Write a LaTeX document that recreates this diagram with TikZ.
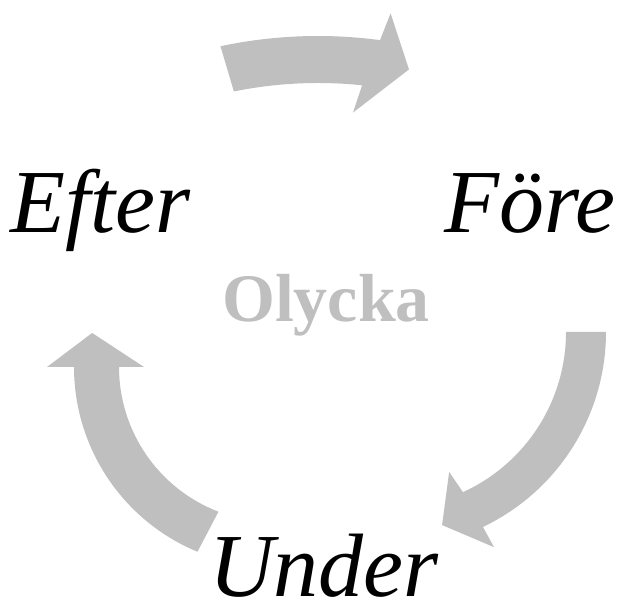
\documentclass[tikz,border=0pt]{standalone}
\usepackage{fontspec}
\setmainfont{Liberation Serif}
\usepackage{xcolor}
\usepackage{tikz}
\usetikzlibrary{positioning}

\definecolor{arrowgray}{RGB}{191,191,191}

\begin{document}
\begin{tikzpicture}[x=1pt, y=1pt,
  every phase/.style={font=\fontsize{90}{90}\selectfont\itshape, inner sep=0pt, text depth=0pt, anchor=base},
  centre word/.style={font=\fontsize{68}{68}\selectfont\bfseries, text=arrowgray, inner sep=0pt, anchor=base},
  cycle arrow/.style={fill=arrowgray}]

\useasboundingbox (0,0) rectangle (619,601);

% centres of the three bent arrows
\coordinate (c-top) at (318,96);
\coordinate (c-right) at (390,269);
\coordinate (c-left) at (274,234);

% Efter -> Fore
\fill [cycle arrow] ([shift={(102:469pt)}]c-top) arc [start angle=102, end angle=82.4, radius=469pt]
  -- ([shift={(81.6:497pt)}]c-top) -- ([shift={(78.2:445pt)}]c-top)
  -- ([shift={(84.9:394pt)}]c-top) -- ([shift={(84:422pt)}]c-top)
  arc [start angle=84, end angle=101.5, radius=422pt] -- cycle;

% Fore -> Under
\fill [cycle arrow] ([shift={(0:216pt)}]c-right) arc [start angle=0, end angle=-64.5, radius=216pt]
  -- ([shift={(-64.2:239pt)}]c-right) -- ([shift={(-74.9:200pt)}]c-right)
  -- ([shift={(-67.1:152pt)}]c-right) -- ([shift={(-65.5:176pt)}]c-right)
  arc [start angle=-65.5, end angle=0, radius=176pt] -- cycle;

% Under -> Efter
\fill [cycle arrow] ([shift={(247.5:200pt)}]c-left) arc [start angle=247.5, end angle=180, radius=200pt]
  -- ([shift={(180:227pt)}]c-left) -- ([shift={(169.4:185pt)}]c-left)
  -- ([shift={(180:130pt)}]c-left) -- ([shift={(180:155pt)}]c-left)
  arc [start angle=180, end angle=249, radius=155pt] -- cycle;

\node [centre word] (olycka) at (326,279) {Olycka};

\foreach \m/\l/\x/\y in {efter/Efter/100/368, fore/Före/530/368, under/Under/324/4}
  \node [every phase] (phase-\m) at (\x,\y) {\l};
\end{tikzpicture}
\end{document}
